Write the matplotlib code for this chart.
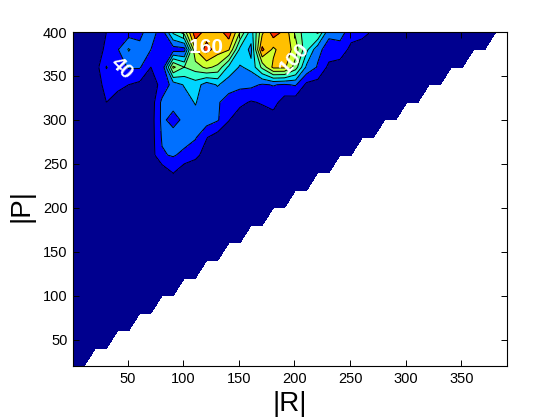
import numpy as np
import matplotlib
matplotlib.use("Agg")
import matplotlib.pyplot as plt

plt.rcParams['font.family'] = ['Liberation Sans', 'DejaVu Sans']

R = [1, 11, 21, 31, 41, 51, 61, 71, 81, 91, 101, 111, 121, 131, 141, 151, 161, 171, 181, 191,
     201, 211, 221, 231, 241, 251, 261, 271, 281, 291, 301, 311, 321, 331, 341, 351, 361, 371, 381, 391]
P = [20, 40, 60, 80, 100, 120, 140, 160, 180, 200, 220, 240, 260, 280, 300, 320, 340, 360, 380, 400]

background = 5

p400 = [5, 5, 10, 20, 25, 30, 35, 50, 30, 85, 110, 175, 150, 150, 172, 120, 70, 135, 172, 155, 115, 85, 105, 45, 50, 28, 25, 18]
p380 = [5, 5, 10, 24, 38, 62, 45, 40, 30, 30, 32, 140, 168, 150, 142, 75, 55, 165, 135, 155, 130, 85, 45, 32, 30, 15, 12]
p360 = [5, 5, 10, 41, 30, 42, 42, 20, 22, 125, 100, 110, 125, 115, 75, 58, 65, 105, 145, 145, 110, 55, 38, 15, 12]
p340 = [5, 5, 5, 30, 25, 20, 15, 12, 25, 48, 62, 70, 50, 62, 48, 45, 45, 38, 41, 38, 42, 15, 12]
p320 = [5, 5, 5, 20, 12, 8, 8, 8, 45, 48, 48, 62, 42, 42, 32, 25, 18, 22, 28, 10, 8]
p300 = [5, 5, 5, 5, 5, 5, 5, 10, 45, 32, 45, 50, 50, 42, 21, 8, 5, 8, 10]
p280 = [5, 5, 5, 5, 5, 5, 5, 10, 42, 50, 48, 42, 21, 10]
p260 = [5, 5, 5, 5, 5, 5, 5, 10, 38, 42, 35, 25, 12]
p240 = [5, 5, 5, 5, 5, 5, 5, 5, 5, 21, 5]

rows = {400: p400, 380: p380, 360: p360, 340: p340, 320: p320, 300: p300, 280: p280, 260: p260, 240: p240}

levels = [0, 20, 40, 60, 80, 100, 120, 140, 160, 180]
band_colors = ['#00008f', '#0000ff', '#0070ff', '#00d4ff', '#30ffcf', '#80ff80', '#cfff30', '#ffc000', '#ff3000']
x_ticks = [50, 100, 150, 200, 250, 300, 350]
y_ticks = [50, 100, 150, 200, 250, 300, 350, 400]

Z = np.full((len(P), len(R)), float(background))
for p, row in rows.items():
    Z[P.index(p), :len(row)] = row

# corner of the grid that has no data
RR, PP = np.meshgrid(R, P)
Z = np.ma.masked_where(RR > PP - 9, Z)

fig = plt.figure(figsize=(5.6, 4.2), dpi=100)
ax = fig.add_axes([73 / 560, 54 / 420, 434 / 560, 334 / 420])

ax.contourf(R, P, Z, levels=levels, colors=band_colors, antialiased=False)
ax.contour(R, P, Z, levels=levels[1:], colors='k', linewidths=0.7)

ax.text(45, 359, "40", color='w', fontsize=15, fontweight='bold', rotation=-45, ha='center', va='center')
ax.text(121, 382, "160", color='w', fontsize=15, fontweight='bold', ha='center', va='center')
ax.text(200, 370, "100", color='w', fontsize=15, fontweight='bold', rotation=48, ha='center', va='center')

ax.set_xlim(1, 391)
ax.set_ylim(20, 400)
ax.set_xticks(x_ticks)
ax.set_yticks(y_ticks)
ax.tick_params(direction='in', top=True, right=True, length=4, width=0.7, labelsize=10.5, pad=4)
for s in ax.spines.values():
    s.set_linewidth(0.8)
ax.set_xlabel("|R|", fontsize=20, labelpad=4)
ax.set_ylabel("|P|", fontsize=20, labelpad=6, y=0.48)

fig.savefig("out.png", dpi=100)
